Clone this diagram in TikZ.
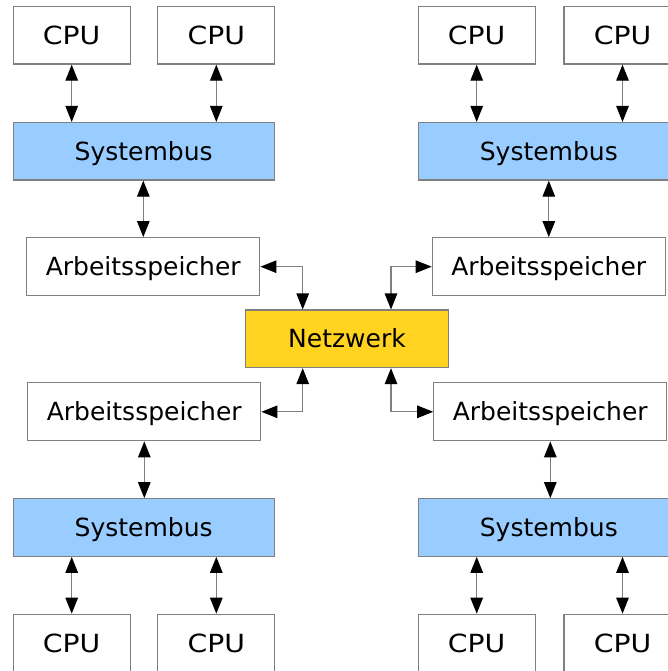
\documentclass[tikz,border=0pt]{standalone}
\usepackage{fontspec}
\setmainfont{DejaVu Sans}
\newfontfamily\cpufont[FakeStretch=1.13]{DejaVu Sans}
\usetikzlibrary{arrows.meta}
\definecolor{busblue}{HTML}{99CCFF}
\definecolor{netgold}{HTML}{FFD320}
\definecolor{edgegray}{HTML}{808080}
\begin{document}
\begin{tikzpicture}[x=1pt,y=-1pt,
  box/.style={draw=edgegray, line width=1.2pt, inner sep=0pt,
    font=\fontsize{25}{30}\selectfont, text height=18.2pt, text depth=0pt},
  cpubox/.style={box, fill=white, minimum width=117pt, minimum height=57.5pt,
    font=\cpufont\fontsize{25}{30}\selectfont},
  busbox/.style={box, fill=busblue, minimum width=261pt, minimum height=57.5pt},
  membox/.style={box, fill=white, minimum width=233pt, minimum height=58pt},
  netbox/.style={box, fill=netgold, minimum width=203pt, minimum height=57.5pt},
  link/.style={draw=edgegray, line width=1.2pt,
    {Triangle[length=16pt,width=12.5pt,color=black]}-{Triangle[length=16pt,width=12.5pt,color=black]}}
]
\useasboundingbox (0,0) rectangle (668,671);
\clip (0,0) rectangle (668,671);
\fill[white] (0,0) rectangle (668,671);

% upper left
\node[cpubox] (c1) at (71.7,35.3) {CPU};
\node[cpubox] (c2) at (216.3,35.3) {CPU};
\node[busbox] (b1) at (143.7,151.3) {Systembus};
\node[membox] (m1) at (143.3,266.7) {Arbeitsspeicher};
% upper right
\node[cpubox] (c3) at (476.7,35.3) {CPU};
\node[cpubox] (c4) at (622.5,35.3) {CPU};
\node[busbox] (b2) at (548.8,151.3) {Systembus};
\node[membox] (m2) at (548.8,266.7) {Arbeitsspeicher};
% network
\node[netbox] (net) at (347,338.8) {Netzwerk};
% lower left
\node[membox] (m3) at (144.3,411.8) {Arbeitsspeicher};
\node[busbox] (b3) at (143.7,527.5) {Systembus};
\node[cpubox] (c5) at (71.7,643) {CPU};
\node[cpubox] (c6) at (216.3,643) {CPU};
% lower right
\node[membox] (m4) at (550.3,411.8) {Arbeitsspeicher};
\node[busbox] (b4) at (548.8,527.5) {Systembus};
\node[cpubox] (c7) at (476.7,643) {CPU};
\node[cpubox] (c8) at (622.5,643) {CPU};

% CPU - bus
\draw[link] (c1.south) -- (c1.south |- b1.north);
\draw[link] (c2.south) -- (c2.south |- b1.north);
\draw[link] (c3.south) -- (c3.south |- b2.north);
\draw[link] (c4.south) -- (c4.south |- b2.north);
\draw[link] (c5.north) -- (c5.north |- b3.south);
\draw[link] (c6.north) -- (c6.north |- b3.south);
\draw[link] (c7.north) -- (c7.north |- b4.south);
\draw[link] (c8.north) -- (c8.north |- b4.south);
% bus - memory
\draw[link] (m1.north |- b1.south) -- (m1.north);
\draw[link] (m2.north |- b2.south) -- (m2.north);
\draw[link] (m3.south) -- (m3.south |- b3.north);
\draw[link] (m4.south) -- (m4.south |- b4.north);
% memory - network
\draw[link] (m1.east) -| ([xshift=-44.3pt]net.north);
\draw[link] (m2.west) -| ([xshift=44pt]net.north);
\draw[link] (m3.east) -| ([xshift=-44.3pt]net.south);
\draw[link] (m4.west) -| ([xshift=44pt]net.south);
\end{tikzpicture}
\end{document}
